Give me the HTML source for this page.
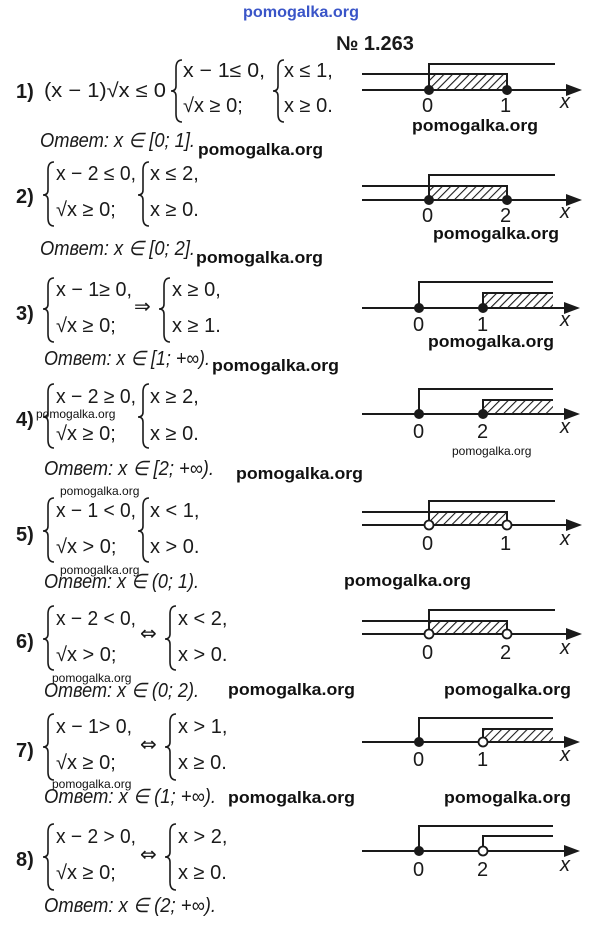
<!DOCTYPE html>
<html><head><meta charset="utf-8"><style>
html,body{margin:0;padding:0;background:#fff;width:600px;height:925px;overflow:hidden}
svg{display:block}
.m{font-family:"Liberation Sans",sans-serif;font-size:20px;fill:#1a1a1a}
.i{font-style:italic}
.b{font-weight:bold}
.ar{font-family:"DejaVu Sans",sans-serif;font-size:20px;fill:#1a1a1a}
.w{font-family:"Liberation Sans",sans-serif;font-weight:bold;font-size:17px;fill:#111}
.ws{font-family:"Liberation Sans",sans-serif;font-size:12px;fill:#111}
.br{fill:none;stroke:#1a1a1a;stroke-width:1.6}
.ln{stroke:#1a1a1a;stroke-width:2;fill:none}
</style></head><body>
<svg width="600" height="925" viewBox="0 0 600 925" xmlns="http://www.w3.org/2000/svg">
<defs>
<pattern id="h" width="6" height="6" patternUnits="userSpaceOnUse" patternTransform="rotate(45)">
<line x1="0" y1="0" x2="0" y2="6" stroke="#1a1a1a" stroke-width="2.2"/></pattern>
</defs>
<text x="243" y="17" font-family="Liberation Sans,sans-serif" font-size="16" fill="#3a55c8" font-weight="bold" textLength="116" lengthAdjust="spacingAndGlyphs">pomogalka.org</text>
<text x="336" y="50" class="m b" font-size="20">№ 1.263</text>

<!-- Row 1 -->
<text x="16" y="98" class="m b">1)</text>
<text x="44" y="97" class="m" textLength="122" lengthAdjust="spacingAndGlyphs">(x − 1)√x ≤ 0</text>
<path class="br" d="M182,60 Q176,60 176,68 L176,86 Q176,91 171,91 Q176,91 176,96 L176,114 Q176,122 182,122"/>
<text x="183" y="77" class="m" textLength="82" lengthAdjust="spacingAndGlyphs">x − 1≤ 0,</text>
<text x="183" y="112" class="m">√x ≥ 0;</text>
<path class="br" d="M284,60 Q278,60 278,68 L278,86 Q278,91 273,91 Q278,91 278,96 L278,114 Q278,122 284,122"/>
<text x="284" y="77" class="m">x ≤ 1,</text>
<text x="284" y="112" class="m">x ≥ 0.</text>
<text x="40" y="147" class="m i" font-size="18" textLength="155" lengthAdjust="spacingAndGlyphs">Ответ: x ∈ [0; 1].</text>
<text x="198" y="155" class="w" textLength="125" lengthAdjust="spacingAndGlyphs">pomogalka.org</text>
<text x="412" y="131" class="w" textLength="126" lengthAdjust="spacingAndGlyphs">pomogalka.org</text>

<!-- Row 2 -->
<text x="16" y="203" class="m b">2)</text>
<path class="br" d="M54,162 Q48,162 48,170 L48,190 Q48,195 43,195 Q48,195 48,200 L48,218 Q48,226 54,226"/>
<text x="56" y="180" class="m" textLength="80" lengthAdjust="spacingAndGlyphs">x − 2 ≤ 0,</text>
<text x="56" y="216" class="m">√x ≥ 0;</text>
<path class="br" d="M149,162 Q143,162 143,170 L143,190 Q143,195 138,195 Q143,195 143,200 L143,218 Q143,226 149,226"/>
<text x="150" y="180" class="m">x ≤ 2,</text>
<text x="150" y="216" class="m">x ≥ 0.</text>
<text x="40" y="255" class="m i" font-size="18" textLength="155" lengthAdjust="spacingAndGlyphs">Ответ: x ∈ [0; 2].</text>
<text x="196" y="263" class="w" textLength="127" lengthAdjust="spacingAndGlyphs">pomogalka.org</text>
<text x="433" y="239" class="w" textLength="126" lengthAdjust="spacingAndGlyphs">pomogalka.org</text>

<!-- Row 3 -->
<text x="16" y="320" class="m b">3)</text>
<path class="br" d="M54,278 Q48,278 48,286 L48,304 Q48,309 43,309 Q48,309 48,314 L48,334 Q48,342 54,342"/>
<text x="56" y="296" class="m" textLength="76" lengthAdjust="spacingAndGlyphs">x − 1≥ 0,</text>
<text x="56" y="332" class="m">√x ≥ 0;</text>
<text x="134" y="313" class="ar">⇒</text>
<path class="br" d="M170,278 Q164,278 164,286 L164,304 Q164,309 159,309 Q164,309 164,314 L164,334 Q164,342 170,342"/>
<text x="172" y="296" class="m">x ≥ 0,</text>
<text x="172" y="332" class="m">x ≥ 1.</text>
<text x="44" y="365" class="m i" font-size="18" textLength="166" lengthAdjust="spacingAndGlyphs">Ответ: x ∈ [1; +∞).</text>
<text x="212" y="371" class="w" textLength="127" lengthAdjust="spacingAndGlyphs">pomogalka.org</text>
<text x="428" y="347" class="w" textLength="126" lengthAdjust="spacingAndGlyphs">pomogalka.org</text>

<!-- Row 4 -->
<text x="16" y="426" class="m b">4)</text>
<path class="br" d="M54,384 Q48,384 48,392 L48,412 Q48,417 43,417 Q48,417 48,422 L48,440 Q48,448 54,448"/>
<text x="56" y="403" class="m" textLength="80" lengthAdjust="spacingAndGlyphs">x − 2 ≥ 0,</text>
<text x="56" y="440" class="m">√x ≥ 0;</text>
<path class="br" d="M149,384 Q143,384 143,392 L143,412 Q143,417 138,417 Q143,417 143,422 L143,440 Q143,448 149,448"/>
<text x="150" y="403" class="m">x ≥ 2,</text>
<text x="150" y="440" class="m">x ≥ 0.</text>
<text x="36" y="418" class="ws">pomogalka.org</text>
<text x="44" y="475" class="m i" font-size="18" textLength="170" lengthAdjust="spacingAndGlyphs">Ответ: x ∈ [2; +∞).</text>
<text x="236" y="479" class="w" textLength="127" lengthAdjust="spacingAndGlyphs">pomogalka.org</text>
<text x="452" y="455" class="ws">pomogalka.org</text>

<!-- Row 5 -->
<text x="60" y="495" class="ws">pomogalka.org</text>
<text x="16" y="541" class="m b">5)</text>
<path class="br" d="M54,498 Q48,498 48,506 L48,526 Q48,531 43,531 Q48,531 48,536 L48,554 Q48,562 54,562"/>
<text x="56" y="517" class="m" textLength="80" lengthAdjust="spacingAndGlyphs">x − 1 &lt; 0,</text>
<text x="56" y="553" class="m">√x &gt; 0;</text>
<path class="br" d="M149,498 Q143,498 143,506 L143,526 Q143,531 138,531 Q143,531 143,536 L143,554 Q143,562 149,562"/>
<text x="150" y="517" class="m">x &lt; 1,</text>
<text x="150" y="553" class="m">x &gt; 0.</text>
<text x="60" y="574" class="ws">pomogalka.org</text>
<text x="44" y="588" class="m i" font-size="18" textLength="155" lengthAdjust="spacingAndGlyphs">Ответ: x ∈ (0; 1).</text>
<text x="344" y="586" class="w" textLength="127" lengthAdjust="spacingAndGlyphs">pomogalka.org</text>

<!-- Row 6 -->
<text x="16" y="648" class="m b">6)</text>
<path class="br" d="M54,606 Q48,606 48,614 L48,634 Q48,639 43,639 Q48,639 48,644 L48,662 Q48,670 54,670"/>
<text x="56" y="625" class="m" textLength="80" lengthAdjust="spacingAndGlyphs">x − 2 &lt; 0,</text>
<text x="56" y="661" class="m">√x &gt; 0;</text>
<text x="140" y="640" class="ar">⇔</text>
<path class="br" d="M176,606 Q170,606 170,614 L170,634 Q170,639 165,639 Q170,639 170,644 L170,662 Q170,670 176,670"/>
<text x="178" y="625" class="m">x &lt; 2,</text>
<text x="178" y="661" class="m">x &gt; 0.</text>
<text x="52" y="682" class="ws">pomogalka.org</text>
<text x="44" y="697" class="m i" font-size="18" textLength="155" lengthAdjust="spacingAndGlyphs">Ответ: x ∈ (0; 2).</text>
<text x="228" y="695" class="w" textLength="127" lengthAdjust="spacingAndGlyphs">pomogalka.org</text>
<text x="444" y="695" class="w" textLength="127" lengthAdjust="spacingAndGlyphs">pomogalka.org</text>

<!-- Row 7 -->
<text x="16" y="757" class="m b">7)</text>
<path class="br" d="M54,714 Q48,714 48,722 L48,742 Q48,747 43,747 Q48,747 48,752 L48,772 Q48,780 54,780"/>
<text x="56" y="733" class="m" textLength="76" lengthAdjust="spacingAndGlyphs">x − 1&gt; 0,</text>
<text x="56" y="769" class="m">√x ≥ 0;</text>
<text x="140" y="751" class="ar">⇔</text>
<path class="br" d="M176,714 Q170,714 170,722 L170,742 Q170,747 165,747 Q170,747 170,752 L170,772 Q170,780 176,780"/>
<text x="178" y="733" class="m">x &gt; 1,</text>
<text x="178" y="769" class="m">x ≥ 0.</text>
<text x="52" y="788" class="ws">pomogalka.org</text>
<text x="44" y="803" class="m i" font-size="18" textLength="172" lengthAdjust="spacingAndGlyphs">Ответ: x ∈ (1; +∞).</text>
<text x="228" y="803" class="w" textLength="127" lengthAdjust="spacingAndGlyphs">pomogalka.org</text>
<text x="444" y="803" class="w" textLength="127" lengthAdjust="spacingAndGlyphs">pomogalka.org</text>

<!-- Row 8 -->
<text x="16" y="866" class="m b">8)</text>
<path class="br" d="M54,824 Q48,824 48,832 L48,852 Q48,857 43,857 Q48,857 48,862 L48,882 Q48,890 54,890"/>
<text x="56" y="843" class="m" textLength="80" lengthAdjust="spacingAndGlyphs">x − 2 &gt; 0,</text>
<text x="56" y="879" class="m">√x ≥ 0;</text>
<text x="140" y="861" class="ar">⇔</text>
<path class="br" d="M176,824 Q170,824 170,832 L170,852 Q170,857 165,857 Q170,857 170,862 L170,882 Q170,890 176,890"/>
<text x="178" y="843" class="m">x &gt; 2,</text>
<text x="178" y="879" class="m">x ≥ 0.</text>
<text x="44" y="912" class="m i" font-size="18" textLength="172" lengthAdjust="spacingAndGlyphs">Ответ: x ∈ (2; +∞).</text>

<!-- Number lines type A (rows 1,2,5,6) -->
<g>
<rect x="429" y="74" width="78" height="16" fill="url(#h)"/>
<line class="ln" x1="362" y1="90" x2="572" y2="90"/><path d="M582,90 L566,84 L566,96 Z" fill="#1a1a1a"/>
<path class="ln" d="M362,74 L507,74 L507,90"/>
<path class="ln" d="M429,90 L429,64 L555,64"/>
<circle cx="429" cy="90" r="5" fill="#1a1a1a"/><circle cx="507" cy="90" r="5" fill="#1a1a1a"/>
<text x="422" y="112" class="m">0</text><text x="500" y="112" class="m">1</text><text x="560" y="108" class="m i">x</text>
</g>
<g>
<rect x="429" y="186" width="78" height="14" fill="url(#h)"/>
<line class="ln" x1="362" y1="200" x2="572" y2="200"/><path d="M582,200 L566,194 L566,206 Z" fill="#1a1a1a"/>
<path class="ln" d="M362,186 L507,186 L507,200"/>
<path class="ln" d="M429,200 L429,175 L555,175"/>
<circle cx="429" cy="200" r="5" fill="#1a1a1a"/><circle cx="507" cy="200" r="5" fill="#1a1a1a"/>
<text x="422" y="222" class="m">0</text><text x="500" y="222" class="m">2</text><text x="560" y="218" class="m i">x</text>
</g>
<g>
<rect x="429" y="512" width="78" height="13" fill="url(#h)"/>
<line class="ln" x1="362" y1="525" x2="572" y2="525"/><path d="M582,525 L566,519 L566,531 Z" fill="#1a1a1a"/>
<path class="ln" d="M362,512 L507,512 L507,525"/>
<path class="ln" d="M429,525 L429,501 L555,501"/>
<circle cx="429" cy="525" r="4.5" fill="#fff" stroke="#1a1a1a" stroke-width="1.8"/><circle cx="507" cy="525" r="4.5" fill="#fff" stroke="#1a1a1a" stroke-width="1.8"/>
<text x="422" y="550" class="m">0</text><text x="500" y="550" class="m">1</text><text x="560" y="545" class="m i">x</text>
</g>
<g>
<rect x="429" y="621" width="78" height="13" fill="url(#h)"/>
<line class="ln" x1="362" y1="634" x2="572" y2="634"/><path d="M582,634 L566,628 L566,640 Z" fill="#1a1a1a"/>
<path class="ln" d="M362,621 L507,621 L507,634"/>
<path class="ln" d="M429,634 L429,610 L555,610"/>
<circle cx="429" cy="634" r="4.5" fill="#fff" stroke="#1a1a1a" stroke-width="1.8"/><circle cx="507" cy="634" r="4.5" fill="#fff" stroke="#1a1a1a" stroke-width="1.8"/>
<text x="422" y="659" class="m">0</text><text x="500" y="659" class="m">2</text><text x="560" y="654" class="m i">x</text>
</g>

<!-- Number lines type B (rows 3,4,7,8) -->
<g>
<rect x="483" y="293" width="70" height="15" fill="url(#h)"/>
<line class="ln" x1="362" y1="308" x2="570" y2="308"/><path d="M580,308 L564,302 L564,314 Z" fill="#1a1a1a"/>
<path class="ln" d="M419,308 L419,282 L553,282"/>
<path class="ln" d="M483,308 L483,293 L553,293"/>
<circle cx="419" cy="308" r="5" fill="#1a1a1a"/><circle cx="483" cy="308" r="5" fill="#1a1a1a"/>
<text x="413" y="331" class="m">0</text><text x="477" y="331" class="m">1</text><text x="560" y="326" class="m i">x</text>
</g>
<g>
<rect x="483" y="400" width="70" height="14" fill="url(#h)"/>
<line class="ln" x1="362" y1="414" x2="570" y2="414"/><path d="M580,414 L564,408 L564,420 Z" fill="#1a1a1a"/>
<path class="ln" d="M419,414 L419,389 L553,389"/>
<path class="ln" d="M483,414 L483,400 L553,400"/>
<circle cx="419" cy="414" r="5" fill="#1a1a1a"/><circle cx="483" cy="414" r="5" fill="#1a1a1a"/>
<text x="413" y="438" class="m">0</text><text x="477" y="438" class="m">2</text><text x="560" y="433" class="m i">x</text>
</g>
<g>
<rect x="483" y="729" width="70" height="13" fill="url(#h)"/>
<line class="ln" x1="362" y1="742" x2="570" y2="742"/><path d="M580,742 L564,736 L564,748 Z" fill="#1a1a1a"/>
<path class="ln" d="M419,742 L419,718 L553,718"/>
<path class="ln" d="M483,742 L483,729 L553,729"/>
<circle cx="419" cy="742" r="5" fill="#1a1a1a"/><circle cx="483" cy="742" r="4.5" fill="#fff" stroke="#1a1a1a" stroke-width="1.8"/>
<text x="413" y="766" class="m">0</text><text x="477" y="766" class="m">1</text><text x="560" y="761" class="m i">x</text>
</g>
<g>
<line class="ln" x1="362" y1="851" x2="570" y2="851"/><path d="M580,851 L564,845 L564,857 Z" fill="#1a1a1a"/>
<path class="ln" d="M419,851 L419,826 L553,826"/>
<path class="ln" d="M483,846 L483,836 L553,836"/>
<circle cx="419" cy="851" r="5" fill="#1a1a1a"/><circle cx="483" cy="851" r="4.5" fill="#fff" stroke="#1a1a1a" stroke-width="1.8"/>
<text x="413" y="876" class="m">0</text><text x="477" y="876" class="m">2</text><text x="560" y="871" class="m i">x</text>
</g>
</svg>
</body></html>
